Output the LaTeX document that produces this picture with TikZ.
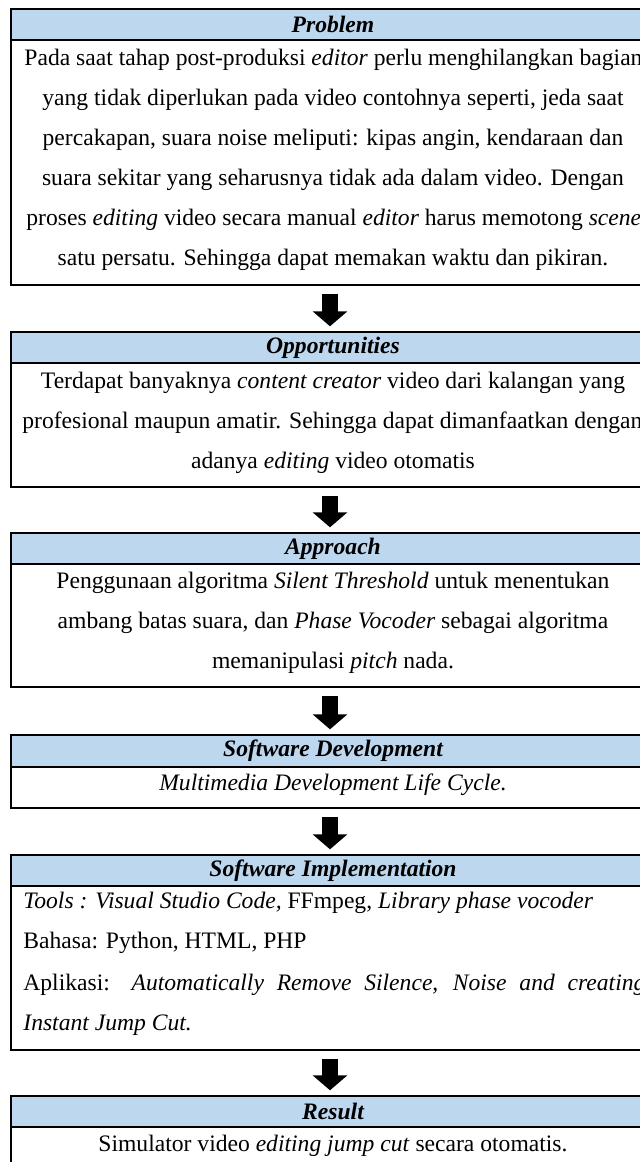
\documentclass[tikz,border=0pt]{standalone}
\usepackage{fontspec}
\setmainfont{Liberation Serif}
\usetikzlibrary{arrows.meta}
\definecolor{hdrblue}{HTML}{BDD7EE}
\begin{document}
\begin{tikzpicture}[x=0.5pt,y=-0.5pt]
    \tikzset{
        hdr/.style={draw, fill=hdrblue, line width=0.7pt, minimum width=322pt, minimum height=15.5pt, inner sep=0pt, font=\fontsize{11.8pt}{14pt}\selectfont\bfseries\itshape},
        body/.style={draw, line width=0.7pt, minimum width=322pt, inner sep=0pt},
        txt/.style={anchor=base, inner sep=0pt, font=\fontsize{11.8pt}{14pt}\selectfont},
        ltxt/.style={txt, anchor=base west},
        bigarrow/.style={line width=8pt, -{Triangle[width=17pt,length=7.5pt]}, shorten <=4pt, shorten >=2.5pt}
    }
    \useasboundingbox (0,0) rectangle (640,1162);
    \clip (0,0) rectangle (640,1162);

    \draw node[body, minimum height=122.5pt] (probB) at (333,162.5) {};
    \draw node[hdr] (probH) at (333,24.5) {Problem};
    \draw node[body, minimum height=62pt] (oppB) at (333,425) {};
    \draw node[hdr] (oppH) at (333,347.5) {Opportunities};
    \draw node[body, minimum height=61.5pt] (apprB) at (333,625.5) {};
    \draw node[hdr] (apprH) at (333,548.5) {Approach};
    \draw node[body, minimum height=20.5pt] (devB) at (333,787.5) {};
    \draw node[hdr, minimum height=16pt] (devH) at (333,751) {Software Development};
    \draw node[body, minimum height=82pt] (implB) at (333,968) {};
    \draw node[hdr] (implH) at (333,870.5) {Software Implementation};
    \draw node[body, minimum height=36.5pt] (resB) at (333,1163.5) {};
    \draw node[hdr] (resH) at (333,1111.5) {Result};

    \draw node[ltxt] (p1) at (24,65) {Pada saat tahap post-produksi \textit{editor} perlu menghilangkan bagian};
    \draw node[txt] (p2) at (333,105) {yang tidak diperlukan pada video contohnya seperti, jeda saat};
    \draw node[txt] (p3) at (333,145) {percakapan, suara noise meliputi: kipas angin, kendaraan dan};
    \draw node[txt] (p4) at (333,185) {suara sekitar yang seharusnya tidak ada dalam video. Dengan};
    \draw node[ltxt] (p5) at (26,225) {proses \textit{editing} video secara manual \textit{editor} harus memotong \textit{scene}};
    \draw node[txt] (p6) at (333,265) {satu persatu. Sehingga dapat memakan waktu dan pikiran.};

    \draw node[txt] (o1) at (333,388) {Terdapat banyaknya \textit{content creator} video dari kalangan yang};
    \draw node[ltxt] (o2) at (22,428) {profesional maupun amatir. Sehingga dapat dimanfaatkan dengan};
    \draw node[txt] (o3) at (333,468) {adanya \textit{editing} video otomatis};

    \draw node[txt] (a1) at (333,588) {Penggunaan algoritma \textit{Silent Threshold} untuk menentukan};
    \draw node[txt] (a2) at (333,628) {ambang batas suara, dan \textit{Phase Vocoder} sebagai algoritma};
    \draw node[txt] (a3) at (333,668) {memanipulasi \textit{pitch} nada.};

    \draw node[txt] (d1) at (333,790) {\textit{Multimedia Development Life Cycle.}};

    \draw node[ltxt] (i1) at (23,908) {\textit{Tools : Visual Studio Code,} FFmpeg, \textit{Library phase vocoder}};
    \draw node[ltxt] (i2) at (23,948) {Bahasa: Python, HTML, PHP};
    \draw node[ltxt] (i3) at (23,990) {\makebox[311pt][s]{Aplikasi: \textit{Automatically Remove Silence, Noise and creating}}};
    \draw node[ltxt] (i4) at (23,1030) {\textit{Instant Jump Cut.}};

    \draw node[txt] (r1) at (333,1151) {Simulator video \textit{editing jump cut} secara otomatis.};

    \foreach \x/\y in {%
        probB/oppH, oppB/apprH, apprB/devH, devB/implH, implB/resH%
    }{
    \draw[bigarrow] ([xshift=-1.5pt]\x.south) -- ([xshift=-1.5pt]\y.north);
    }
\end{tikzpicture}
\end{document}
